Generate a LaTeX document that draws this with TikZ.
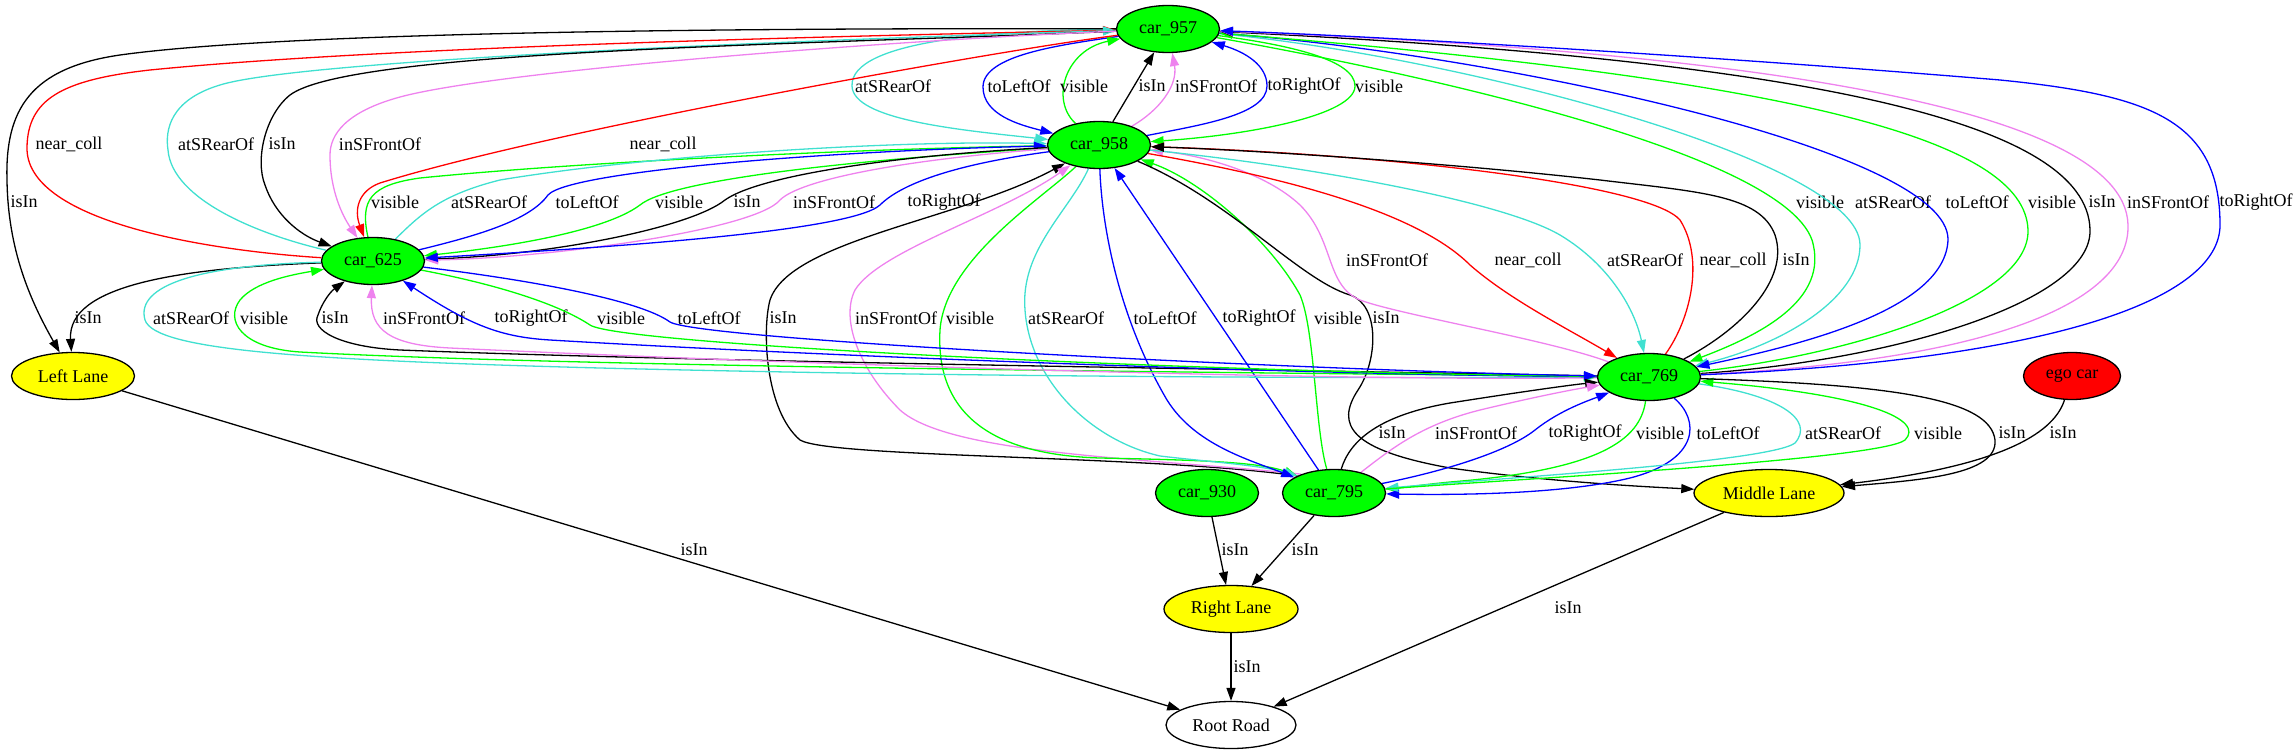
\documentclass[tikz,border=0pt]{standalone}
\usepackage{fontspec}
\setmainfont{Liberation Serif}
\usepackage{tikz}
\usetikzlibrary{shapes.geometric, arrows.meta, backgrounds}
\definecolor{nodegreen}{RGB}{0,255,0}
\definecolor{laneyellow}{RGB}{255,255,0}
\definecolor{egored}{RGB}{255,0,0}
\definecolor{egreen}{RGB}{0,255,0}
\definecolor{eblue}{RGB}{0,0,255}
\definecolor{turq}{RGB}{64,224,208}
\definecolor{violet}{RGB}{238,130,238}

\begin{document}
\begin{tikzpicture}[x=1pt, y=-1pt,
    car/.style={ellipse, draw, line width=1.3pt, fill=nodegreen, minimum width=103pt, minimum height=47pt, inner sep=0pt, font=\fontsize{18}{20}\selectfont},
    lane/.style={car, fill=laneyellow},
    rel/.style={draw=#1, line width=1.3pt, -{Triangle[length=13pt, width=9pt]}},
    lbl/.style={font=\fontsize{18}{20}\selectfont, inner sep=0pt},
]
    \useasboundingbox (0,0) rectangle (2296,755);

    \node[car] (c957) at (1168,29) {car\_957};
    \node[car] (c958) at (1099,145) {car\_958};
    \node[car] (c625) at (373,261) {car\_625};
    \node[car] (c769) at (1649,377) {car\_769};
    \node[car] (c930) at (1207,493) {car\_930};
    \node[car] (c795) at (1334,493) {car\_795};
    \node[car, fill=egored, minimum width=97pt] (ego) at (2072,376) {ego car};
    \node[lane, minimum width=123pt] (left) at (73,376) {Left Lane};
    \node[lane, minimum width=150pt] (middle) at (1769,493) {Middle Lane};
    \node[lane, minimum width=134pt] (right) at (1231,609) {Right Lane};
    \node[car, fill=white, minimum width=130pt] (road) at (1231,725) {Root Road};

    \begin{scope}[on background layer]
    \draw[rel=turq] (c957) .. controls (1000,30) and (850,40) .. (852,86) .. controls (853,120) and (960,130) .. (c958) node[lbl] at (893,86) {atSRearOf};
    \draw[rel=eblue] (c957) .. controls (1060,45) and (983,55) .. (983,87) .. controls (983,115) and (1020,125) .. (c958) node[lbl] at (1019,86) {toLeftOf};
    \draw[rel=egreen] (c958) .. controls (1050,100) and (1065,50) .. (c957) node[lbl] at (1084,86) {visible};
    \draw[rel=black] (c958) -- (c957) node[lbl] at (1152,86) {isIn};
    \draw[rel=violet] (c958) .. controls (1160,110) and (1178,85) .. (c957) node[lbl] at (1216,86) {inSFrontOf};
    \draw[rel=eblue] (c958) .. controls (1200,125) and (1267,115) .. (1267,86) .. controls (1267,65) and (1245,52) .. (c957) node[lbl] at (1304,86) {toRightOf};
    \draw[rel=egreen] (c957) .. controls (1290,45) and (1355,60) .. (1355,86) .. controls (1355,115) and (1250,135) .. (c958) node[lbl] at (1379,86) {visible};

    \draw[rel=black] (c957) .. controls (800,28) and (300,30) .. (120,55) .. controls (30,68) and (5,110) .. (7,180) .. controls (8,250) and (30,300) .. (left) node[lbl] at (24,202) {isIn};
    \draw[rel=red] (c625) .. controls (200,250) and (25,220) .. (27,147) .. controls (28,100) and (60,80) .. (150,70) .. controls (400,45) and (900,35) .. (c957) node[lbl] at (69,144) {near\_coll};
    \draw[rel=turq] (c625) .. controls (260,235) and (172,200) .. (168,150) .. controls (165,130) and (170,100) .. (220,85) .. controls (300,60) and (800,40) .. (c957) node[lbl] at (216,144) {atSRearOf};
    \draw[rel=black] (c957) .. controls (800,45) and (350,50) .. (290,95) .. controls (265,115) and (255,160) .. (265,185) .. controls (275,215) and (300,235) .. (c625) node[lbl] at (282,144) {isIn};
    \draw[rel=violet] (c957) .. controls (900,40) and (500,70) .. (400,97) .. controls (345,112) and (330,135) .. (330,155) .. controls (330,190) and (342,215) .. (c625) node[lbl] at (380,144) {inSFrontOf};
    \draw[rel=red] (c957) .. controls (1000,50) and (550,130) .. (380,183) .. controls (358,191) and (354,210) .. (c625) node[lbl] at (663,144) {near\_coll};

    \draw[rel=egreen] (c625) .. controls (360,200) and (370,185) .. (420,178) .. controls (600,160) and (900,148) .. (c958) node[lbl] at (395,202) {visible};
    \draw[rel=turq] (c625) .. controls (420,215) and (440,195) .. (500,180) .. controls (650,155) and (900,140) .. (c958) node[lbl] at (489,202) {atSRearOf};
    \draw[rel=eblue] (c625) .. controls (480,235) and (530,220) .. (548,195) .. controls (570,170) and (850,150) .. (c958) node[lbl] at (587,202) {toLeftOf};
    \draw[rel=egreen] (c958) .. controls (850,160) and (670,180) .. (640,205) .. controls (600,235) and (480,250) .. (c625) node[lbl] at (679,202) {visible};
    \draw[rel=black] (c958) .. controls (900,155) and (760,175) .. (725,200) .. controls (690,228) and (550,255) .. (c625) node[lbl] at (747,202) {isIn};
    \draw[rel=violet] (c958) .. controls (900,160) and (800,180) .. (780,200) .. controls (755,230) and (550,258) .. (c625) node[lbl] at (834,202) {inSFrontOf};
    \draw[rel=eblue] (c958) .. controls (950,165) and (900,185) .. (880,205) .. controls (850,232) and (600,248) .. (c625) node[lbl] at (944,202) {toRightOf};

    \draw[rel=black] (c795.155) .. controls (1150,455) and (830,458) .. (800,440) .. controls (765,410) and (762,330) .. (770,300) .. controls (790,240) and (960,220) .. (c958) node[lbl] at (783,318) {isIn};
    \draw[rel=violet] (c795.150) .. controls (1150,458) and (950,455) .. (900,410) .. controls (860,370) and (840,320) .. (855,290) .. controls (880,250) and (1000,215) .. (c958) node[lbl] at (896,318) {inSFrontOf};
    \draw[rel=egreen] (c958) .. controls (1040,200) and (945,260) .. (940,330) .. controls (935,420) and (1000,455) .. (1100,458) .. controls (1200,460) and (1260,462) .. (c795.155) node[lbl] at (970,318) {visible};
    \draw[rel=turq] (c958) .. controls (1070,210) and (1020,250) .. (1025,310) .. controls (1030,380) and (1090,440) .. (1160,456) .. controls (1210,462) and (1260,465) .. (c795.155) node[lbl] at (1066,318) {atSRearOf};
    \draw[rel=eblue] (c958) .. controls (1102,230) and (1120,320) .. (1167,400) .. controls (1195,445) and (1250,460) .. (c795) node[lbl] at (1165,318) {toLeftOf};
    \draw[rel=eblue] (c795) -- (c958) node[lbl] at (1259,318) {toRightOf};
    \draw[rel=egreen] (c795) .. controls (1315,430) and (1315,330) .. (1300,295) .. controls (1270,240) and (1200,180) .. (c958) node[lbl] at (1338,318) {visible};
    \draw[rel=black] (c958) .. controls (1230,200) and (1300,280) .. (1350,295) .. controls (1380,305) and (1378,360) .. (1358,390) .. controls (1335,425) and (1350,450) .. (1450,468) .. controls (1550,482) and (1650,487) .. (middle) node[lbl] at (1386,318) {isIn};

    \draw[rel=black] (c625) .. controls (180,268) and (67,285) .. (left) node[lbl] at (88,318) {isIn};
    \draw[rel=turq] (c625) .. controls (200,265) and (135,285) .. (145,320) .. controls (155,350) and (300,360) .. (600,368) .. controls (1000,378) and (1400,378) .. (c769) node[lbl] at (191,318) {atSRearOf};
    \draw[rel=egreen] (c769) .. controls (1300,373) and (600,368) .. (300,352) .. controls (240,348) and (225,320) .. (240,300) .. controls (255,282) and (290,275) .. (c625) node[lbl] at (264,318) {visible};
    \draw[rel=black] (c769) .. controls (1300,370) and (700,362) .. (400,350) .. controls (340,347) and (310,330) .. (318,315) .. controls (322,303) and (330,292) .. (c625) node[lbl] at (335,318) {isIn};
    \draw[rel=violet] (c769) .. controls (1300,382) and (700,360) .. (450,348) .. controls (390,345) and (370,330) .. (c625) node[lbl] at (424,318) {inSFrontOf};
    \draw[rel=eblue] (c769) .. controls (1300,375) and (800,355) .. (550,340) .. controls (500,337) and (470,325) .. (c625) node[lbl] at (531,318) {toRightOf};
    \draw[rel=egreen] (c625) .. controls (500,285) and (560,305) .. (590,325) .. controls (620,345) and (1200,372) .. (c769) node[lbl] at (621,318) {visible};
    \draw[rel=eblue] (c625) .. controls (530,280) and (640,300) .. (670,322) .. controls (700,340) and (1300,370) .. (c769) node[lbl] at (709,318) {toLeftOf};

    \draw[rel=violet] (c769) .. controls (1550,340) and (1400,315) .. (1360,300) .. controls (1325,285) and (1335,240) .. (1300,205) .. controls (1265,172) and (1200,155) .. (c958) node[lbl] at (1387,260) {inSFrontOf};
    \draw[rel=red] (c958) .. controls (1300,180) and (1420,215) .. (1470,265) .. controls (1510,300) and (1570,330) .. (c769) node[lbl] at (1528,260) {near\_coll};
    \draw[rel=turq] (c958) .. controls (1300,165) and (1500,200) .. (1560,235) .. controls (1610,265) and (1635,310) .. (c769) node[lbl] at (1645,260) {atSRearOf};
    \draw[rel=red] (c769) .. controls (1690,320) and (1705,260) .. (1680,220) .. controls (1650,185) and (1400,155) .. (c958) node[lbl] at (1733,260) {near\_coll};
    \draw[rel=black] (c769) .. controls (1740,330) and (1790,280) .. (1775,235) .. controls (1760,195) and (1700,192) .. (1600,180) .. controls (1450,163) and (1250,150) .. (c958) node[lbl] at (1796,260) {isIn};

    \draw[rel=egreen] (c957) .. controls (1400,70) and (1780,150) .. (1812,240) .. controls (1830,300) and (1760,335) .. (c769) node[lbl] at (1820,202) {visible};
    \draw[rel=turq] (c957) .. controls (1450,55) and (1860,160) .. (1860,245) .. controls (1860,300) and (1780,345) .. (c769) node[lbl] at (1893,202) {atSRearOf};
    \draw[rel=eblue] (c957) .. controls (1500,55) and (1950,150) .. (1948,240) .. controls (1945,310) and (1800,345) .. (c769) node[lbl] at (1977,202) {toLeftOf};
    \draw[rel=egreen] (c769) .. controls (1850,355) and (2030,300) .. (2028,230) .. controls (2025,140) and (1800,80) .. (c957) node[lbl] at (2052,202) {visible};
    \draw[rel=black] (c769) .. controls (1900,360) and (2092,300) .. (2090,230) .. controls (2088,120) and (1800,60) .. (c957) node[lbl] at (2102,202) {isIn};
    \draw[rel=violet] (c769) .. controls (2000,360) and (2130,300) .. (2128,225) .. controls (2125,100) and (1700,50) .. (c957) node[lbl] at (2168,202) {inSFrontOf};
    \draw[rel=eblue] (c769) .. controls (2050,360) and (2220,300) .. (2220,225) .. controls (2220,120) and (2150,95) .. (2000,80) .. controls (1700,55) and (1350,35) .. (c957) node[lbl] at (2256,202) {toRightOf};

    \draw[rel=black] (c795) .. controls (1350,440) and (1380,415) .. (1450,403) .. controls (1520,392) and (1570,385) .. (c769) node[lbl] at (1392,433) {isIn};
    \draw[rel=violet] (c795) .. controls (1390,450) and (1420,425) .. (1480,410) .. controls (1530,398) and (1570,390) .. (c769) node[lbl] at (1476,433) {inSFrontOf};
    \draw[rel=eblue] (c795) .. controls (1450,470) and (1510,450) .. (1535,430) .. controls (1560,410) and (1590,400) .. (c769) node[lbl] at (1585,433) {toRightOf};
    \draw[rel=egreen] (c769) .. controls (1640,440) and (1600,470) .. (1450,482) .. controls (1420,485) and (1400,488) .. (c795) node[lbl] at (1660,433) {visible};
    \draw[rel=eblue] (c769) .. controls (1700,420) and (1700,460) .. (1630,478) .. controls (1560,495) and (1450,495) .. (c795) node[lbl] at (1728,433) {toLeftOf};
    \draw[rel=turq] (c769) .. controls (1780,395) and (1815,420) .. (1795,443) .. controls (1770,462) and (1500,478) .. (c795) node[lbl] at (1843,433) {atSRearOf};
    \draw[rel=egreen] (c795) .. controls (1500,480) and (1880,460) .. (1905,440) .. controls (1925,420) and (1870,395) .. (c769) node[lbl] at (1938,433) {visible};
    \draw[rel=black] (c769) .. controls (1900,385) and (1990,400) .. (1995,440) .. controls (1998,475) and (1920,480) .. (middle) node[lbl] at (2012,433) {isIn};
    \draw[rel=black] (ego) .. controls (2055,430) and (2010,465) .. (middle) node[lbl] at (2063,433) {isIn};

    \draw[rel=black] (c930) -- (right) node[lbl] at (1235,550) {isIn};
    \draw[rel=black] (c795) -- (right) node[lbl] at (1305,550) {isIn};
    \draw[rel=black] (right) -- (road) node[lbl] at (1247,667) {isIn};
    \draw[rel=black] (left) -- (road) node[lbl] at (694,550) {isIn};
    \draw[rel=black] (middle) -- (road) node[lbl] at (1568,608) {isIn};
    \end{scope}
\end{tikzpicture}
\end{document}
